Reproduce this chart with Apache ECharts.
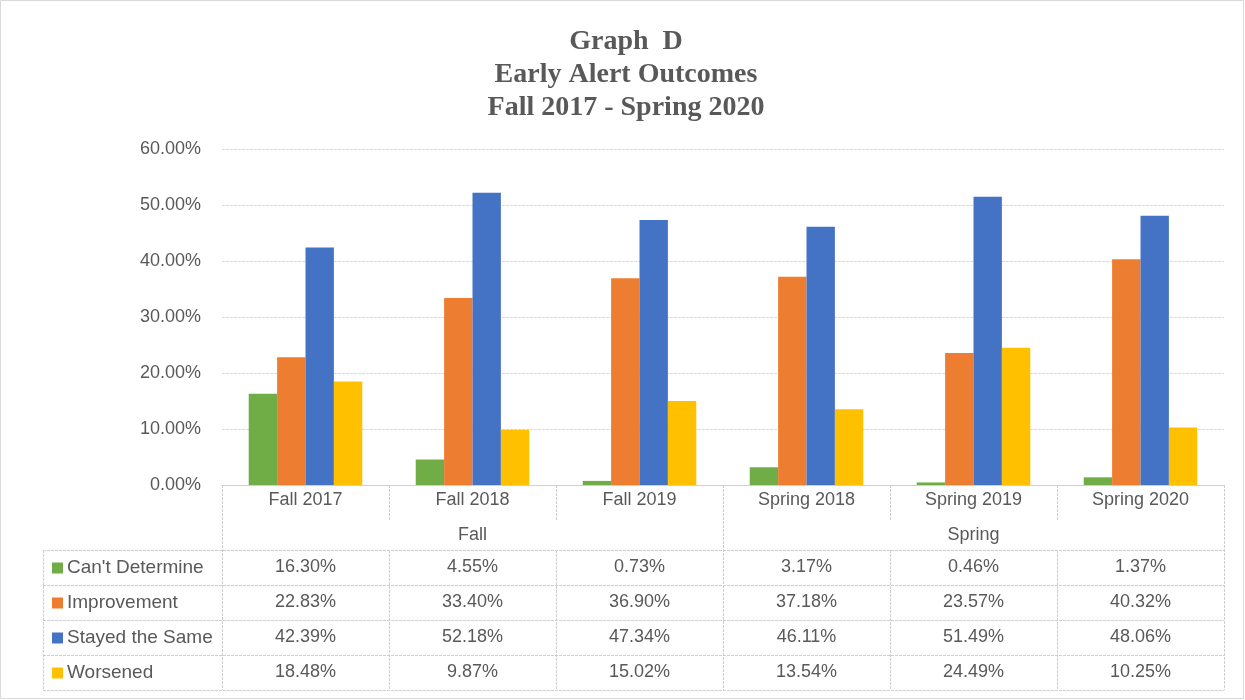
<!DOCTYPE html>
<html>
<head>
<meta charset="utf-8">
<script src="https://cdn.jsdelivr.net/npm/echarts@6/dist/echarts.min.js"></script>
<style>
    html, body { margin: 0; padding: 0; background: #fff; }
    #chart { width: 1245px; height: 700px; }
</style>
</head>
<body>
<div id="chart"></div>
<script>
    const categories = ['Fall 2017', 'Fall 2018', 'Fall 2019', 'Spring 2018', 'Spring 2019', 'Spring 2020'];
    const groups = ['Fall', 'Spring'];
    const seriesNames = ["Can't Determine", 'Improvement', 'Stayed the Same', 'Worsened'];
    const cantDetermine = [16.30, 4.55, 0.73, 3.17, 0.46, 1.37];
    const improvement = [22.83, 33.40, 36.90, 37.18, 23.57, 40.32];
    const stayedSame = [42.39, 52.18, 47.34, 46.11, 51.49, 48.06];
    const worsened = [18.48, 9.87, 15.02, 13.54, 24.49, 10.25];
    const colors = ['#70AD47', '#ED7D31', '#4472C4', '#FFC000'];

    const values = [cantDetermine, improvement, stayedSame, worsened];

    // layout (pixels)
    const gL = 222, gR = 1224, gT = 149, gB = 485;
    const tableLeft = 43;
    const rowA = 520, rowB = 550, rowH = 35;
    const textColor = '#595959';
    const lineColor = '#cfcfcf';
    const font = 'Liberation Sans';
    const fs = 18;

    let dom = document.getElementById('chart');
    let myChart = echarts.init(dom);

    const pct = v => v.toFixed(2) + '%';

    // table rows as extra category axes under the grid
    let xAxes = [
        {
            type: 'category',
            data: categories,
            axisLine: { lineStyle: { color: lineColor } },
            axisTick: { show: false },
            axisLabel: { color: textColor, fontSize: fs, fontFamily: font, margin: 6 }
        },
        {
            type: 'category',
            data: groups,
            position: 'bottom',
            offset: 35,
            axisLine: { show: false },
            axisTick: { show: false },
            axisLabel: { color: textColor, fontSize: fs, fontFamily: font, margin: 6 }
        }
    ];
    values.forEach((vals, i) => {
        xAxes.push({
            type: 'category',
            data: vals.map(pct),
            position: 'bottom',
            offset: 67 + i * rowH,
            axisLine: { show: false },
            axisTick: { show: false },
            axisLabel: { color: textColor, fontSize: fs, fontFamily: font, margin: 6 }
        });
    });

    let graphics = [];
    const line = (x1, y1, x2, y2) => graphics.push({
        type: 'line',
        shape: { x1: x1, y1: y1, x2: x2, y2: y2 },
        style: { stroke: lineColor, lineWidth: 1, lineDash: [3, 1] },
        silent: true
    });
    const colW = (gR - gL) / categories.length;
    // outer verticals
    line(gL + 0.5, gB, gL + 0.5, rowB + 4 * rowH);
    line(gR + 0.5, gB, gR + 0.5, rowB + 4 * rowH);
    line(tableLeft + 0.5, rowB, tableLeft + 0.5, rowB + 4 * rowH);
    for (let c = 1; c < categories.length; c++) {
        let x = Math.round(gL + c * colW) + 0.5;
        if (c === categories.length / 2) {
            line(x, gB, x, rowB + 4 * rowH);
        } else {
            line(x, gB, x, rowA);
            line(x, rowB, x, rowB + 4 * rowH);
        }
    }
    for (let r = 0; r <= 4; r++) {
        let y = rowB + r * rowH + 0.5;
        line(tableLeft, y, gR, y);
    }
    // row headers with legend keys
    seriesNames.forEach((name, i) => {
        let cy = rowB + i * rowH + rowH / 2;
        graphics.push({
            type: 'rect',
            shape: { x: 52, y: cy - 5, width: 11, height: 11 },
            style: { fill: colors[i] },
            silent: true
        });
        graphics.push({
            type: 'text',
            x: 67, y: cy,
            style: { text: name, fill: textColor, font: '19px "' + font + '"', verticalAlign: 'middle' },
            silent: true
        });
    });
    // outer border
    graphics.push({
        type: 'rect',
        shape: { x: 0.5, y: 0.5, width: 1243, height: 698 },
        style: { fill: 'none', stroke: '#d9d9d9', lineWidth: 1 },
        silent: true
    });

    let option = {
        backgroundColor: '#fff',
        animation: false,
        title: {
            text: 'Graph  D\nEarly Alert Outcomes\nFall 2017 - Spring 2020',
            left: 621,
            top: 20,
            textAlign: 'center',
            textStyle: {
                fontFamily: 'Liberation Serif',
                fontWeight: 'bold',
                fontSize: 28,
                lineHeight: 33,
                color: textColor
            }
        },
        grid: {
            left: gL,
            right: 1245 - gR,
            top: gT,
            bottom: 700 - gB,
            containLabel: false
        },
        xAxis: xAxes,
        yAxis: {
            type: 'value',
            min: 0,
            max: 60,
            interval: 10,
            axisLine: { show: false },
            axisTick: { show: false },
            splitLine: { lineStyle: { color: '#d9d9d9', type: [3, 1] } },
            axisLabel: {
                color: textColor,
                fontSize: fs,
                fontFamily: font,
                margin: 21,
                formatter: v => v.toFixed(2) + '%'
            }
        },
        series: seriesNames.map((name, i) => ({
            name: name,
            type: 'bar',
            xAxisIndex: 0,
            data: values[i],
            barGap: '0%',
            barCategoryGap: '32%',
            itemStyle: { color: colors[i] }
        })),
        graphic: graphics
    };
    if (option && typeof option === 'object') {
        myChart.setOption(option, true);
    }
</script>
</body>
</html>
